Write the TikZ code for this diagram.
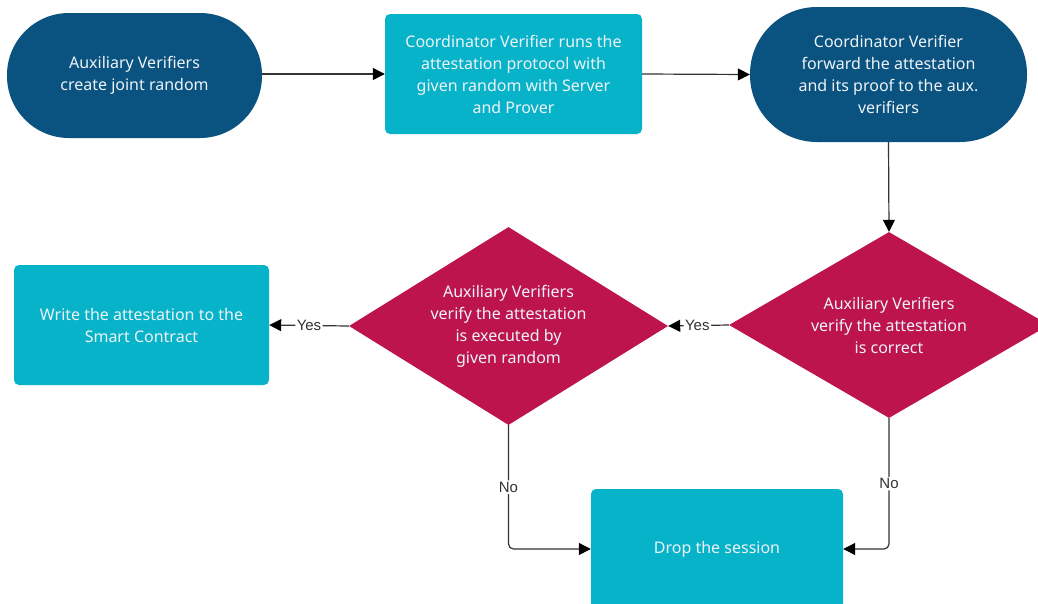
\documentclass[tikz,border=0pt]{standalone}
\usepackage{fontspec}
\setmainfont{Noto Sans}
\newfontfamily\labelfont{Liberation Sans}
\usetikzlibrary{shapes.geometric,arrows.meta}
\definecolor{navy}{HTML}{0A527F}
\definecolor{teal}{HTML}{07B3C9}
\definecolor{crimson}{HTML}{BD144D}
\definecolor{linegray}{HTML}{333333}
\definecolor{txt}{HTML}{EEF3F8}
\tikzset{
  base/.style={text=txt, align=center, font=\fontsize{16}{22}\selectfont, inner sep=0pt},
  stadium/.style={base, fill=navy, draw=none},
  stepbox/.style={base, fill=teal, draw=none, rounded corners=5pt},
  decision/.style={base, shape=diamond, fill=crimson, draw=none, aspect=1.7},
  flow/.style={draw=linegray, line width=1.2pt, -{Triangle[length=12pt,width=12pt,color=black]}, rounded corners=5pt},
  answer/.style={font=\labelfont\fontsize{15}{17}\selectfont, text=linegray, fill=white, inner sep=1.5pt}
}
\begin{document}
\begin{tikzpicture}[x=1pt,y=-1pt]
\useasboundingbox (0,0) rectangle (1038,603);
\begin{scope}
\clip (0,0) rectangle (1038,603);
% process steps
\node[stadium, minimum width=255pt, minimum height=125pt, rounded corners=62pt] (s1) at (134.5,75.5) {Auxiliary Verifiers\\create joint random};
\node[stepbox, minimum width=257pt, minimum height=120pt] (s2) at (513.5,74) {Coordinator Verifier runs the\\attestation protocol with\\given random with Server\\and Prover};
\node[stadium, minimum width=277pt, minimum height=135pt, rounded corners=67pt] (s3) at (888.5,74.5) {Coordinator Verifier\\forward the attestation\\and its proof to the aux.\\verifiers};
% checks
\node[decision, minimum width=320pt, minimum height=186pt] (d1) at (889,325) {Auxiliary Verifiers\\verify the attestation\\is correct};
\node[decision, minimum width=319pt, minimum height=198pt] (d2) at (508.5,326) {Auxiliary Verifiers\\verify the attestation\\is executed by\\given random};
% outcomes
\node[stepbox, minimum width=255pt, minimum height=120pt] (w) at (141.5,325) {Write the attestation to the\\Smart Contract};
\node[stepbox, minimum width=252pt, minimum height=120pt] (drop) at (717,549) {Drop the session};

\draw[flow] (s1.east |- s2.west) -- (s2.west);
\draw[flow] (s2.east) -- (s3.west);
\draw[flow] (s3.south) -- (d1.north);
\draw[flow] (d1.west) -- node[answer, pos=0.52] {Yes} (d2.east);
\draw[flow] (d2.west) -- node[answer, pos=0.5] {Yes} (w.east);
\draw[flow] (d2.south) |- node[answer, pos=0.25] {No} (drop.west);
\draw[flow] (d1.south) |- node[answer, pos=0.25] {No} (drop.east);
\end{scope}
\end{tikzpicture}
\end{document}
